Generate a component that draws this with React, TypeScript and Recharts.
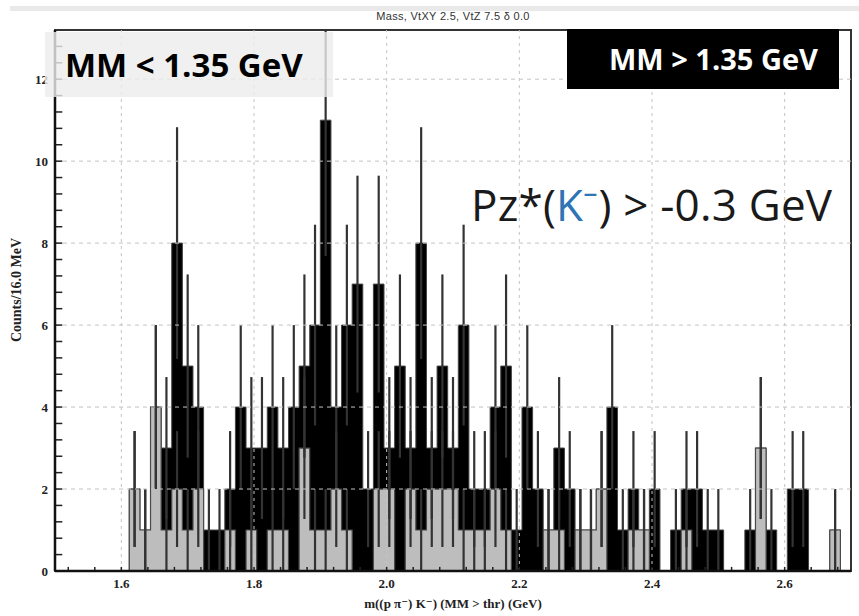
import React from 'react';
import {
  ComposedChart,
  Area,
  Scatter,
  ErrorBar,
  XAxis,
  YAxis,
  ReferenceLine,
  ReferenceArea,
  Label,
} from 'recharts';

// bin centres of the 16 MeV histogram bins (GeV)
const binCenters = [
  1.508, 1.524, 1.540, 1.556, 1.572, 1.588, 1.604, 1.620, 1.636, 1.652,
  1.668, 1.684, 1.700, 1.716, 1.732, 1.748, 1.764, 1.780, 1.796, 1.812,
  1.828, 1.844, 1.860, 1.876, 1.892, 1.908, 1.924, 1.940, 1.956, 1.972,
  1.988, 2.004, 2.020, 2.036, 2.052, 2.068, 2.084, 2.100, 2.116, 2.132,
  2.148, 2.164, 2.180, 2.196, 2.212, 2.228, 2.244, 2.260, 2.276, 2.292,
  2.308, 2.324, 2.340, 2.356, 2.372, 2.388, 2.404, 2.420, 2.436, 2.452,
  2.468, 2.484, 2.500, 2.516, 2.532, 2.548, 2.564, 2.580, 2.596, 2.612,
  2.628, 2.644, 2.660, 2.676, 2.692,
];

// all events (black histogram)
const countsAll = [
  0, 0, 0, 0, 0, 0, 0, 2, 1, 4,
  3, 8, 5, 4, 1, 1, 2, 4, 3, 3,
  4, 3, 4, 5, 6, 11, 4, 6, 7, 2,
  7, 3, 5, 3, 8, 3, 5, 3, 6, 2,
  2, 4, 5, 1, 4, 2, 1, 3, 2, 1,
  1, 2, 4, 1, 2, 1, 2, 0, 1, 2,
  2, 1, 1, 0, 0, 1, 3, 1, 0, 2,
  2, 0, 0, 1, 0,
];

// MM < 1.35 GeV subset (grey histogram)
const countsLow = [
  0, 0, 0, 0, 0, 0, 0, 2, 1, 4,
  1, 2, 1, 2, 0, 0, 1, 0, 1, 0,
  1, 1, 0, 3, 1, 1, 2, 1, 0, 0,
  2, 2, 0, 2, 1, 2, 2, 2, 1, 1,
  1, 2, 1, 0, 0, 0, 1, 1, 0, 1,
  1, 2, 0, 0, 1, 1, 0, 0, 0, 1,
  0, 0, 0, 0, 0, 0, 3, 0, 0, 0,
  0, 0, 0, 1, 0,
];

const xTicks = [1.6, 1.8, 2.0, 2.2, 2.4, 2.6];
const yTicks = [0, 2, 4, 6, 8, 10, 12];
const yGrid = [2, 4, 6, 8, 10, 12];
const xMinorTicks = [
  1.52, 1.56, 1.6, 1.64, 1.68, 1.72, 1.76, 1.8, 1.84, 1.88, 1.92, 1.96, 2.0, 2.04, 2.08,
  2.12, 2.16, 2.2, 2.24, 2.28, 2.32, 2.36, 2.4, 2.44, 2.48, 2.52, 2.56, 2.6, 2.64, 2.68,
];
const yMinorTicks = [
  0.4, 0.8, 1.2, 1.6, 2, 2.4, 2.8, 3.2, 3.6, 4, 4.4, 4.8, 5.2, 5.6, 6, 6.4, 6.8, 7.2, 7.6, 8,
  8.4, 8.8, 9.2, 9.6, 10, 10.4, 10.8, 11.2, 11.6, 12, 12.4, 12.8,
];
const xDomain = [1.5, 2.7];
const yDomain = [0, 13.2];

const data = binCenters.map((x, i) => ({
  x,
  all: countsAll[i],
  low: countsLow[i],
}));
// Poisson errors, upper side cut at the frame top (the plot clips them there)
const errorsOf = (counts: number[]) =>
  binCenters
    .map((x, i) => {
      const n = counts[i];
      const s = Math.sqrt(n);
      return { x, y: n, e: [s, Math.min(s, yDomain[1] - n)] };
    })
    .filter((d) => d.y > 0);
const errAll = errorsOf(countsAll);
const errLow = errorsOf(countsLow);

const serif = '"Liberation Serif", "DejaVu Serif", serif';
const sans = '"Open Sans", "Liberation Sans", sans-serif';

const NoShape = () => <g />;

export default function App() {
  return (
    <div
      style={{
        position: 'absolute',
        left: 0,
        top: 0,
        width: 859,
        height: 616,
        background: '#fff',
        overflow: 'hidden',
      }}
    >
      <div style={{ position: 'absolute', left: 10, top: 6, width: 849, height: 5, background: '#e9e9e9' }} />
      <div
        style={{
          position: 'absolute',
          left: 300,
          top: 9,
          width: 306,
          textAlign: 'center',
          fontFamily: '"Liberation Sans", sans-serif',
          fontSize: 11,
          lineHeight: '14px',
          letterSpacing: 0.3,
          color: '#333',
        }}
      >
        Mass, VtXY 2.5, VtZ 7.5 δ 0.0
      </div>

      <div style={{ position: 'absolute', left: 0, top: 0 }}>
        <ComposedChart
          width={859}
          height={616}
          data={data}
          margin={{ top: 30, right: 8, bottom: 5, left: 10 }}
        >
          <XAxis
            dataKey="x"
            type="number"
            domain={xDomain}
            allowDataOverflow
            ticks={xTicks}
            tickFormatter={(v) => Number(v).toFixed(1)}
            tickLine={false}
            axisLine={{ stroke: '#111', strokeWidth: 2.5 }}
            height={40}
            tick={{ fontFamily: serif, fontWeight: 'bold', fontSize: 13, fill: '#222' }}
          >
            <Label
              value="m((p π⁻) K⁻) (MM > thr) (GeV)"
              position="insideBottom"
              offset={3}
              style={{ fontFamily: serif, fontWeight: 'bold', fontSize: 13, fill: '#222' }}
            />
          </XAxis>
          <YAxis
            type="number"
            domain={yDomain}
            allowDataOverflow
            ticks={yTicks}
            tickLine={false}
            tickMargin={1}
            axisLine={{ stroke: '#111', strokeWidth: 2.5 }}
            width={45}
            tick={{ fontFamily: serif, fontWeight: 'bold', fontSize: 13, fill: '#222' }}
          />

          <Area
            dataKey="all"
            type="step"
            fill="#000"
            fillOpacity={1}
            stroke="#444"
            strokeWidth={1}
            dot={false}
            activeDot={false}
            isAnimationActive={false}
          />
          <Scatter data={errAll} dataKey="y" shape={NoShape} isAnimationActive={false}>
            <ErrorBar dataKey="e" direction="y" width={0} stroke="#333" strokeWidth={2.2} />
          </Scatter>
          <Area
            dataKey="low"
            type="step"
            fill="#bdbdbd"
            fillOpacity={1}
            stroke="#4a4a4a"
            strokeWidth={1.2}
            dot={false}
            activeDot={false}
            isAnimationActive={false}
          />
          <Scatter data={errLow} dataKey="y" shape={NoShape} isAnimationActive={false}>
            <ErrorBar dataKey="e" direction="y" width={0} stroke="#333" strokeWidth={2.2} />
          </Scatter>

          {yGrid.map((v) => (
            <ReferenceLine key={'gy' + v} y={v} stroke="#c4c4c4" strokeDasharray="4 4" strokeWidth={1} />
          ))}
          {xTicks.map((v) => (
            <ReferenceLine key={'gx' + v} x={v} stroke="#c4c4c4" strokeDasharray="3 4" strokeWidth={1} />
          ))}
          {yMinorTicks.map((v) => (
            <ReferenceLine
              key={'ty' + v}
              segment={[
                { x: 1.5, y: v },
                { x: 1.511, y: v },
              ]}
              stroke="#222"
              strokeWidth={1.5}
            />
          ))}
          {xMinorTicks.map((v) => (
            <ReferenceLine
              key={'tx' + v}
              segment={[
                { x: v, y: 0 },
                { x: v, y: 0.1 },
              ]}
              stroke="#222"
              strokeWidth={1.5}
            />
          ))}
          <ReferenceArea
            x1={xDomain[0]}
            x2={xDomain[1]}
            y1={yDomain[0]}
            y2={yDomain[1]}
            fill="none"
            fillOpacity={0}
            stroke="#333"
            strokeWidth={2}
          />
        </ComposedChart>
      </div>

      <div style={{ position: 'absolute', left: 0, top: 290, width: 34, height: 0 }}>
        <div
          style={{
            position: 'absolute',
            left: 17,
            top: 0,
            transform: 'translate(-50%, -50%) rotate(-90deg)',
            whiteSpace: 'nowrap',
            fontFamily: serif,
            fontWeight: 'bold',
            fontSize: 14,
            color: '#222',
          }}
        >
          Counts/16.0 MeV
        </div>
      </div>

      <div
        style={{
          position: 'absolute',
          left: 45,
          top: 32,
          width: 288,
          height: 65,
          background: 'rgba(236,236,236,0.8)',
          boxSizing: 'border-box',
          paddingLeft: 20,
          lineHeight: '65px',
          fontFamily: sans,
          fontWeight: 'bold',
          fontSize: 33,
          color: '#000',
          whiteSpace: 'nowrap',
        }}
      >
        MM &lt; 1.35 GeV
      </div>
      <div
        style={{
          position: 'absolute',
          left: 567,
          top: 29,
          width: 272,
          height: 60,
          background: '#000',
          boxSizing: 'border-box',
          paddingLeft: 42,
          lineHeight: '60px',
          fontFamily: sans,
          fontWeight: 'bold',
          fontSize: 29,
          color: '#fff',
          whiteSpace: 'nowrap',
        }}
      >
        MM &gt; 1.35 GeV
      </div>
      <div
        style={{
          position: 'absolute',
          left: 471,
          top: 179,
          lineHeight: '50px',
          fontFamily: sans,
          fontSize: 44,
          letterSpacing: 0.2,
          color: '#1a1a1a',
          whiteSpace: 'nowrap',
        }}
      >
        Pz*(<span style={{ color: '#2e75b6' }}>K⁻</span>) &gt; -0.3 GeV
      </div>
    </div>
  );
}
